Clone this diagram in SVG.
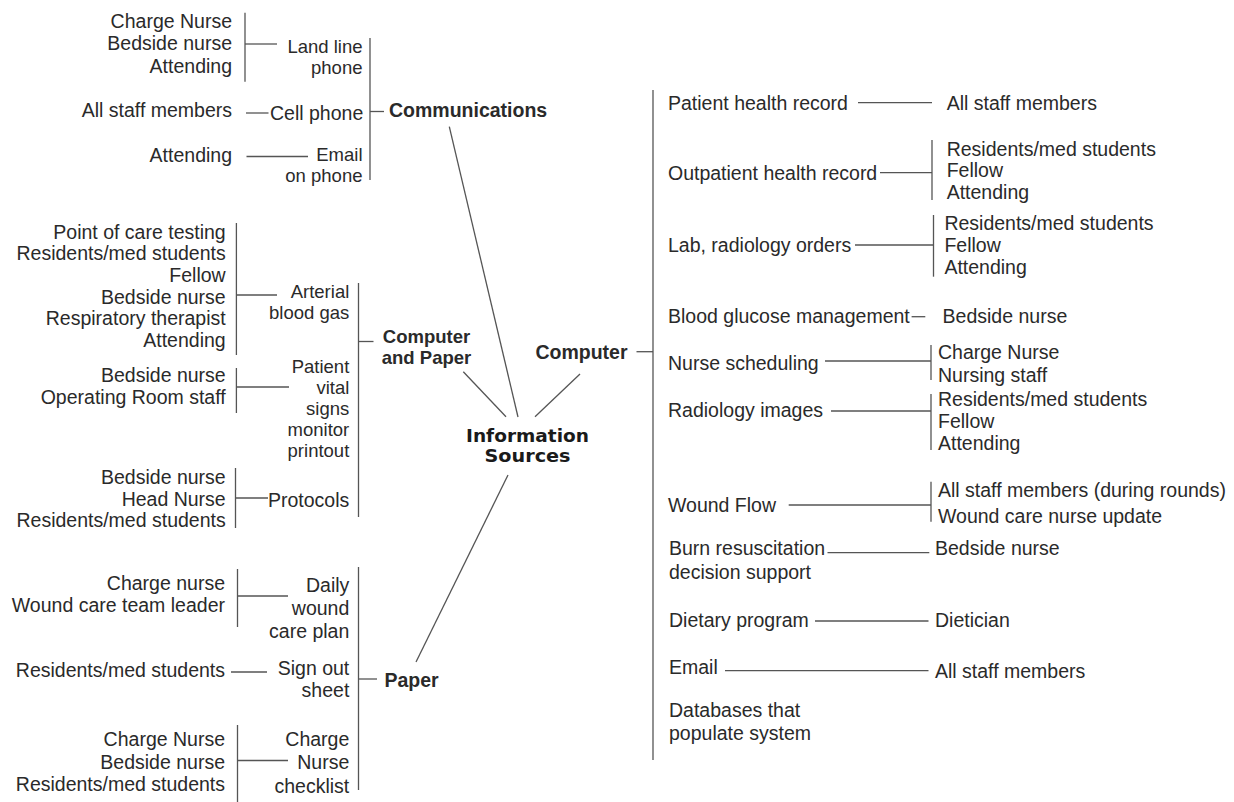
<svg xmlns="http://www.w3.org/2000/svg" width="1234" height="802" viewBox="0 0 1234 802">
<style>
  text { font-family: "Liberation Sans", Arial, sans-serif; font-size: 19.5px; fill: #2a2a2a; }
  .e { text-anchor: end; }
  .b { font-weight: bold; }
  .m { text-anchor: middle; }
  .s { font-size: 18.5px; }
  .hub { font-family: "DejaVu Sans", sans-serif; font-weight: bold; font-size: 17px; text-anchor: middle; fill: #1a1a1a; }
  line { stroke: #555; stroke-width: 1.3; }
</style>
<rect width="1234" height="802" fill="#fff"/>

<g id="connectors">
  <!-- hub links -->
  <line x1="449.3" y1="126.7" x2="518" y2="417"/>
  <line x1="463.3" y1="371.7" x2="506" y2="416.7"/>
  <line x1="580" y1="374" x2="535" y2="416.7"/>
  <line x1="508" y1="475" x2="416" y2="662"/>
  <!-- Communications -->
  <line x1="245" y1="12.7" x2="245" y2="81.7"/>
  <line x1="245" y1="44" x2="277" y2="44"/>
  <line x1="370" y1="38" x2="370" y2="180"/>
  <line x1="246" y1="113" x2="268.5" y2="113"/>
  <line x1="370" y1="111.5" x2="384" y2="111.5"/>
  <line x1="246.5" y1="156.5" x2="308" y2="156.5"/>
  <!-- Computer and Paper -->
  <line x1="236.4" y1="223" x2="236.4" y2="355"/>
  <line x1="236.4" y1="295" x2="277" y2="295"/>
  <line x1="236.4" y1="368" x2="236.4" y2="413"/>
  <line x1="236.4" y1="387" x2="289" y2="387"/>
  <line x1="235.5" y1="468" x2="235.5" y2="528"/>
  <line x1="235.5" y1="498" x2="268" y2="498"/>
  <line x1="358.5" y1="283" x2="358.5" y2="517"/>
  <line x1="358.5" y1="341.5" x2="373.5" y2="341.5"/>
  <!-- Paper -->
  <line x1="237.5" y1="569" x2="237.5" y2="627"/>
  <line x1="237.5" y1="596" x2="288" y2="596"/>
  <line x1="231" y1="672" x2="267" y2="672"/>
  <line x1="358.5" y1="567" x2="358.5" y2="790"/>
  <line x1="358.5" y1="679" x2="377" y2="679"/>
  <line x1="237.5" y1="725" x2="237.5" y2="802"/>
  <line x1="237.5" y1="760.5" x2="288" y2="760.5"/>
  <!-- Computer -->
  <line x1="636.5" y1="351.7" x2="653" y2="351.7"/>
  <line x1="653" y1="90" x2="653" y2="760"/>
  <line x1="858" y1="102.7" x2="932" y2="102.7"/>
  <line x1="880" y1="172.7" x2="932" y2="172.7"/>
  <line x1="932" y1="140" x2="932" y2="200"/>
  <line x1="855" y1="245" x2="933.5" y2="245"/>
  <line x1="933.5" y1="215" x2="933.5" y2="276.7"/>
  <line x1="911.6" y1="316.7" x2="925.3" y2="316.7"/>
  <line x1="825" y1="361" x2="931" y2="361"/>
  <line x1="931" y1="345" x2="931" y2="380"/>
  <line x1="831" y1="411" x2="931" y2="411"/>
  <line x1="931" y1="394" x2="931" y2="450"/>
  <line x1="788.7" y1="505" x2="931" y2="505"/>
  <line x1="931" y1="481.7" x2="931" y2="521.7"/>
  <line x1="827.5" y1="552.7" x2="929.3" y2="552.7"/>
  <line x1="815" y1="621" x2="928.5" y2="621"/>
  <line x1="725" y1="670.7" x2="928.5" y2="670.7"/>
</g>

<g id="hub">
  <text class="hub" x="527.5" y="442" textLength="123" lengthAdjust="spacingAndGlyphs">Information</text>
  <text class="hub" x="527.5" y="462" textLength="86" lengthAdjust="spacingAndGlyphs">Sources</text>
</g>

<g id="cat-communications"><text class="b" x="389" y="116.5">Communications</text></g>
<g id="cat-computer-paper">
  <text class="b m s" x="426.5" y="342.5">Computer</text>
  <text class="b m s" x="426.5" y="363.5">and Paper</text>
</g>
<g id="cat-paper"><text class="b" x="384.5" y="686.5">Paper</text></g>
<g id="cat-computer"><text class="b e" x="627.5" y="358.5">Computer</text></g>

<!-- Communications sources -->
<g id="src-landline">
  <text class="e s" x="362.5" y="52.5">Land line</text>
  <text class="e s" x="362.5" y="73.5">phone</text>
</g>
<g id="users-landline">
  <text class="e" x="232" y="27.7">Charge Nurse</text>
  <text class="e" x="232" y="50.3">Bedside nurse</text>
  <text class="e" x="232" y="72.7">Attending</text>
</g>
<g id="src-cellphone"><text x="270" y="119.5">Cell phone</text></g>
<g id="users-cellphone"><text class="e" x="232" y="117">All staff members</text></g>
<g id="src-email-phone">
  <text class="e s" x="362.5" y="161">Email</text>
  <text class="e s" x="362.5" y="182">on phone</text>
</g>
<g id="users-email-phone"><text class="e" x="232" y="162">Attending</text></g>

<!-- Computer and Paper sources -->
<g id="src-abg">
  <text class="e s" x="349.3" y="297.5">Arterial</text>
  <text class="e s" x="349.3" y="318.5">blood gas</text>
</g>
<g id="users-abg">
  <text class="e" x="225.7" y="238.7">Point of care testing</text>
  <text class="e" x="225.7" y="260.3">Residents/med students</text>
  <text class="e" x="225.7" y="282">Fellow</text>
  <text class="e" x="225.7" y="303.7">Bedside nurse</text>
  <text class="e" x="225.7" y="325.3">Respiratory therapist</text>
  <text class="e" x="225.7" y="347">Attending</text>
</g>
<g id="src-vitals">
  <text class="e s" x="349.3" y="372.5">Patient</text>
  <text class="e s" x="349.3" y="393.5">vital</text>
  <text class="e s" x="349.3" y="414.5">signs</text>
  <text class="e s" x="349.3" y="435.5">monitor</text>
  <text class="e s" x="349.3" y="456.5">printout</text>
</g>
<g id="users-vitals">
  <text class="e" x="225.7" y="382">Bedside nurse</text>
  <text class="e" x="225.7" y="404">Operating Room staff</text>
</g>
<g id="src-protocols"><text class="e" x="349.3" y="507.3">Protocols</text></g>
<g id="users-protocols">
  <text class="e" x="225.7" y="483.7">Bedside nurse</text>
  <text class="e" x="225.7" y="506.3">Head Nurse</text>
  <text class="e" x="225.7" y="527">Residents/med students</text>
</g>

<!-- Paper sources -->
<g id="src-woundplan">
  <text class="e" x="349.3" y="591.7">Daily</text>
  <text class="e" x="349.3" y="614.5">wound</text>
  <text class="e" x="349.3" y="637.5">care plan</text>
</g>
<g id="users-woundplan">
  <text class="e" x="225" y="589.5">Charge nurse</text>
  <text class="e" x="225" y="612">Wound care team leader</text>
</g>
<g id="src-signout">
  <text class="e" x="349.3" y="675">Sign out</text>
  <text class="e" x="349.3" y="697.3">sheet</text>
</g>
<g id="users-signout"><text class="e" x="225" y="677">Residents/med students</text></g>
<g id="src-checklist">
  <text class="e" x="349.3" y="746">Charge</text>
  <text class="e" x="349.3" y="769.3">Nurse</text>
  <text class="e" x="349.3" y="792.5">checklist</text>
</g>
<g id="users-checklist">
  <text class="e" x="225" y="746">Charge Nurse</text>
  <text class="e" x="225" y="769">Bedside nurse</text>
  <text class="e" x="225" y="791">Residents/med students</text>
</g>

<!-- Computer sources -->
<g id="src-phr"><text x="668" y="109.7">Patient health record</text></g>
<g id="users-phr"><text x="946.7" y="109.7">All staff members</text></g>
<g id="src-ohr"><text x="668" y="180.3">Outpatient health record</text></g>
<g id="users-ohr">
  <text x="946.7" y="155.5">Residents/med students</text>
  <text x="946.7" y="177">Fellow</text>
  <text x="946.7" y="198.5">Attending</text>
</g>
<g id="src-orders"><text x="668" y="252">Lab, radiology orders</text></g>
<g id="users-orders">
  <text x="944.4" y="230.3">Residents/med students</text>
  <text x="944.4" y="252">Fellow</text>
  <text x="944.4" y="273.7">Attending</text>
</g>
<g id="src-glucose"><text x="668" y="323">Blood glucose management</text></g>
<g id="users-glucose"><text x="942.6" y="323">Bedside nurse</text></g>
<g id="src-scheduling"><text x="668" y="370.3">Nurse scheduling</text></g>
<g id="users-scheduling">
  <text x="938" y="358.7">Charge Nurse</text>
  <text x="938" y="382">Nursing staff</text>
</g>
<g id="src-radiology"><text x="668" y="417">Radiology images</text></g>
<g id="users-radiology">
  <text x="938" y="406">Residents/med students</text>
  <text x="938" y="427.5">Fellow</text>
  <text x="938" y="449.7">Attending</text>
</g>
<g id="src-woundflow"><text x="668" y="512">Wound Flow</text></g>
<g id="users-woundflow">
  <text x="938" y="497">All staff members (during rounds)</text>
  <text x="938" y="523">Wound care nurse update</text>
</g>
<g id="src-burn">
  <text x="669" y="555.3">Burn resuscitation</text>
  <text x="669" y="579.3">decision support</text>
</g>
<g id="users-burn"><text x="935" y="555.3">Bedside nurse</text></g>
<g id="src-dietary"><text x="669" y="627">Dietary program</text></g>
<g id="users-dietary"><text x="935" y="627">Dietician</text></g>
<g id="src-email"><text x="669" y="673.7">Email</text></g>
<g id="users-email"><text x="935" y="677.7">All staff members</text></g>
<g id="src-databases">
  <text x="669" y="717">Databases that</text>
  <text x="669" y="740.3">populate system</text>
</g>
</svg>
